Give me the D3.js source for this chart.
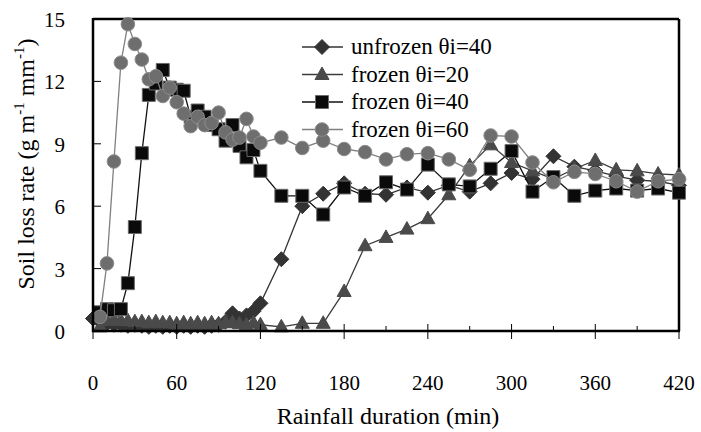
<!DOCTYPE html>
<html>
<head>
<meta charset="utf-8">
<script src="https://cdn.jsdelivr.net/npm/d3@7"></script>
<style>
  body { margin: 0; background: #fff; }
  svg text { font-family: "Liberation Serif", "Times New Roman", Times, "DejaVu Serif", serif; }
</style>
</head>
<body>
<div id="chart"></div>
<script>
// sampling times (min)
const minutes = [0,5,10,15,20,25,30,35,40,45,50,55,60,65,70,75,80,85,90,95,100,105,110,115,120,
  135,150,165,180,195,210,225,240,255,270,285,300,315,330,345,360,375,390,405,420];

// soil loss rate (g m-1 mm-1), null where no sample
const unfrozen40 = [0.6,0.45,0.35,0.3,0.3,0.25,0.3,0.25,0.2,0.25,0.2,0.25,0.2,0.25,0.2,0.25,0.2,0.25,0.3,0.45,0.85,0.6,0.75,0.95,1.33,
  3.45,6.0,6.6,7.1,6.6,6.55,6.9,6.65,7.0,6.7,7.1,7.6,7.3,8.4,7.9,7.7,7.45,7.25,7.2,7.0];
const frozen20 = [null,0.2,0.5,0.55,0.5,0.5,0.45,0.45,0.4,0.45,0.4,0.4,0.35,0.4,0.35,0.4,0.35,0.4,0.35,0.4,0.4,0.35,0.3,0.4,0.3,
  0.2,0.37,0.37,1.9,4.1,4.5,4.9,5.4,6.55,7.95,8.95,8.1,7.7,7.3,7.8,8.2,7.75,7.7,7.55,7.5];
const frozen40 = [null,0.9,1.05,1.0,1.05,2.3,5.0,8.55,11.35,11.9,12.55,11.7,11.6,11.55,10.3,10.6,10.3,9.9,9.7,9.15,9.9,8.9,8.35,8.7,7.7,
  6.5,6.5,5.6,6.9,6.5,7.15,6.8,8.0,7.05,6.95,7.8,8.65,6.7,7.4,6.5,6.75,6.85,6.75,6.85,6.65];
const frozen60 = [null,0.68,3.25,8.15,12.9,14.75,13.8,13.05,12.1,12.25,11.3,11.7,11.0,10.45,9.85,10.3,9.9,10.0,10.5,9.55,9.2,9.3,10.2,9.35,9.05,
  9.3,8.8,9.15,8.75,8.6,8.25,8.5,8.55,8.25,7.75,9.4,9.35,8.1,7.15,7.65,7.55,7.2,6.7,7.2,7.3];

const seriesNames = ["unfrozen \u03b8i=40", "frozen \u03b8i=20", "frozen \u03b8i=40", "frozen \u03b8i=60"];
const xTicks = [0,60,120,180,240,300,360,420];
const xMinorTicks = [30,90,150,210,270,330,390];
const yTicks = [0,3,6,9,12,15];

const W = 701, H = 432;
const svg = d3.select('#chart').append('svg').attr('width', W).attr('height', H)
  .style('display', 'block');

const x = d3.scaleLinear().domain([0, 420]).range([93, 679]);
const y = d3.scaleLinear().domain([0, 15]).range([331, 19]);

// marker shapes
const shapes = {
  diamond: 'M0,-7.5L7.5,0L0,7.5L-7.5,0Z',
  triangle: 'M0,-7.5L7,5L-7,5Z',
  square: 'M-6.5,-6.5H6.5V6.5H-6.5Z',
  circle: d3.symbol(d3.symbolCircle, Math.PI * 6.8 * 6.8)()
};

const series = [
  {name: seriesNames[0], values: unfrozen40, shape: 'diamond', fill: '#333333', stroke: '#333333', line: '#333333'},
  {name: seriesNames[1], values: frozen20, shape: 'triangle', fill: '#4a4a4a', stroke: '#4a4a4a', line: '#3c3c3c'},
  {name: seriesNames[2], values: frozen40, shape: 'square', fill: '#0a0a0a', stroke: '#6a6a6a', line: '#111111'},
  {name: seriesNames[3], values: frozen60, shape: 'circle', fill: '#6e6e6e', stroke: '#8c8c8c', line: '#808080'}
];

// frame
const frame = svg.append('g');
frame.append('line').attr('x1', x(0)).attr('x2', x(420)).attr('y1', y(15)).attr('y2', y(15))
  .attr('stroke', '#000').attr('stroke-width', 2.5);
frame.append('line').attr('x1', x(420)).attr('x2', x(420)).attr('y1', y(15)).attr('y2', y(0))
  .attr('stroke', '#000').attr('stroke-width', 2.5);

// data
const line = d3.line()
  .defined(d => d.v != null)
  .x(d => x(d.t)).y(d => y(d.v));

series.forEach(s => {
  const pts = minutes.map((t, i) => ({t: t, v: s.values[i]}));
  const g = svg.append('g').attr('class', 'series');
  g.append('path').datum(pts).attr('d', line)
    .attr('fill', 'none').attr('stroke', s.line).attr('stroke-width', 1.3);
  g.selectAll('path.mk').data(pts.filter(d => d.v != null)).enter()
    .append('path').attr('class', 'mk')
    .attr('d', shapes[s.shape])
    .attr('transform', d => 'translate(' + x(d.t) + ',' + y(d.v) + ')')
    .attr('fill', s.fill).attr('stroke', s.stroke).attr('stroke-width', 1);
});

// axes
const xAxis = svg.append('g').attr('transform', 'translate(0,' + y(0) + ')');
xAxis.append('line').attr('x1', x(0) - 1).attr('x2', x(420) + 1).attr('stroke', '#000').attr('stroke-width', 2.5);
xAxis.selectAll('line.maj').data(xTicks).enter().append('line').attr('class', 'maj')
  .attr('x1', d => x(d)).attr('x2', d => x(d)).attr('y1', -7).attr('y2', 8)
  .attr('stroke', '#000').attr('stroke-width', 1);
xAxis.selectAll('line.min').data(xMinorTicks).enter().append('line').attr('class', 'min')
  .attr('x1', d => x(d)).attr('x2', d => x(d)).attr('y1', -5).attr('y2', 0)
  .attr('stroke', '#000').attr('stroke-width', 1);
xAxis.selectAll('text').data(xTicks).enter().append('text')
  .attr('x', d => x(d)).attr('y', 59)
  .attr('text-anchor', 'middle').attr('font-size', 21).text(d => d);

const yAxis = svg.append('g');
yAxis.append('line').attr('x1', x(0)).attr('x2', x(0)).attr('y1', y(15) - 1).attr('y2', y(0) + 1)
  .attr('stroke', '#000').attr('stroke-width', 2.5);
yAxis.selectAll('line.tk').data(yTicks).enter().append('line').attr('class', 'tk')
  .attr('x1', x(0)).attr('x2', x(0) + 8).attr('y1', d => y(d)).attr('y2', d => y(d))
  .attr('stroke', '#000').attr('stroke-width', 1);
yAxis.selectAll('text').data(yTicks).enter().append('text')
  .attr('x', 65).attr('y', d => y(d) + 8)
  .attr('text-anchor', 'end').attr('font-size', 21).text(d => d);

// axis titles
svg.append('text').attr('x', 388).attr('y', 424).attr('text-anchor', 'middle')
  .attr('font-size', 24).text('Rainfall duration (min)');

const yTitle = svg.append('text').attr('transform', 'translate(34,164) rotate(-90)')
  .attr('text-anchor', 'middle').attr('font-size', 24);
yTitle.append('tspan').text('Soil loss rate (g m');
yTitle.append('tspan').attr('font-size', 15).attr('dy', -10).text('-1');
yTitle.append('tspan').attr('dy', 10).text(' mm');
yTitle.append('tspan').attr('font-size', 15).attr('dy', -10).text('-1');
yTitle.append('tspan').attr('dy', 10).text(')');

// legend
const legendY = [47, 74.5, 102, 129.5];
const legend = svg.append('g');
series.forEach((s, i) => {
  const g = legend.append('g').attr('transform', 'translate(0,' + legendY[i] + ')');
  g.append('line').attr('x1', 302).attr('x2', 343).attr('stroke', s.line).attr('stroke-width', 1.3);
  g.append('path').attr('d', shapes[s.shape]).attr('transform', 'translate(322,0)')
    .attr('fill', s.fill).attr('stroke', s.stroke);
  g.append('text').attr('x', 351).attr('y', 7).attr('font-size', 23).text(s.name);
});
</script>
</body>
</html>
